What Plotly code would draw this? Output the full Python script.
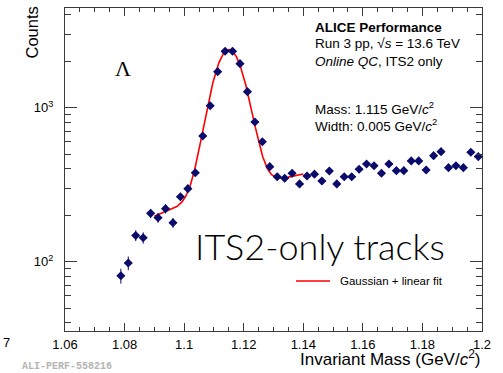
import numpy as np
import plotly.graph_objects as go

# Invariant-mass histogram (bin centres in GeV/c^2, counts per 2.5 MeV bin)
mass_bins = [
    1.07875, 1.08125, 1.08375, 1.08625, 1.08875, 1.09125, 1.09375, 1.09625,
    1.09875, 1.10125, 1.10375, 1.10625, 1.10875, 1.11125, 1.11375, 1.11625,
    1.11875, 1.12125, 1.12375, 1.12625, 1.12875, 1.13125, 1.13375, 1.13625,
    1.13875, 1.14125, 1.14375, 1.14625, 1.14875, 1.15125, 1.15375, 1.15625,
    1.15875, 1.16125, 1.16375, 1.16625, 1.16875, 1.17125, 1.17375, 1.17625,
    1.17875, 1.18125, 1.18375, 1.18625, 1.18875, 1.19125, 1.19375, 1.19625,
    1.19875,
]
counts = [
    81, 98, 148, 143, 206, 193, 221, 179,
    264, 298, 378, 655, 1030, 1713, 2323, 2323,
    1931, 1270, 807, 601, 414, 356, 348, 375,
    320, 360, 370, 334, 388, 320, 356, 356,
    398, 431, 420, 375, 431, 390, 390, 451,
    451, 394, 488, 518, 408, 420, 408, 513,
    481,
]
count_errors = [
    9, 10, 12, 12, 14, 14, 15, 13,
    16, 17, 19, 26, 32, 41, 48, 48,
    44, 36, 28, 25, 20, 19, 19, 19,
    18, 19, 19, 18, 20, 18, 19, 19,
    20, 21, 20, 19, 21, 20, 20, 21,
    21, 20, 22, 23, 20, 20, 20, 23,
    22,
]
bin_half_width = 0.00125

# Gaussian + linear background fit result
fit_mass = 1.115
fit_width = 0.005
fit_amplitude = 2100.0
fit_bkg_at_mass = 284.0
fit_bkg_slope = 3460.0
fit_range = (1.09, 1.14)

x_tick_vals = [1.06, 1.08, 1.10, 1.12, 1.14, 1.16, 1.18, 1.20]
x_tick_text = ["1.06", "1.08", "1.1", "1.12", "1.14", "1.16", "1.18", "1.2"]
y_tick_vals = [100, 1000]
y_tick_text = ["10<sup>2</sup>", "10<sup>3</sup>"]
y_minor_vals = [40, 50, 60, 70, 80, 90, 200, 300, 400, 500, 600, 700, 800, 900,
                2000, 3000, 4000]

m_fit = np.linspace(fit_range[0], fit_range[1], 300)
y_fit = (fit_amplitude * np.exp(-0.5 * ((m_fit - fit_mass) / fit_width) ** 2)
         + fit_bkg_at_mass + fit_bkg_slope * (m_fit - fit_mass))

W, H = 503, 373
FONT = "Liberation Sans, Arial, Helvetica, sans-serif"
NAVY = "#0b0b6b"
FRAME = "#3a3a3a"

fig = go.Figure()

fig.add_trace(go.Scatter(
    x=m_fit, y=y_fit, mode="lines",
    line=dict(color="#ff0000", width=1.6),
    hoverinfo="skip",
))

fig.add_trace(go.Scatter(
    x=mass_bins, y=counts, mode="markers",
    marker=dict(symbol="diamond", size=7, color=NAVY),
    error_y=dict(type="data", array=count_errors, color=NAVY, thickness=1, width=0),
    error_x=dict(type="constant", value=bin_half_width, color=NAVY, thickness=1, width=0),
))

fig.update_layout(
    width=W, height=H,
    margin=dict(l=65, r=21, t=8, b=42),
    paper_bgcolor="white", plot_bgcolor="white",
    showlegend=False,
    font=dict(family=FONT, size=13, color="black"),
)

fig.update_xaxes(
    range=[1.06, 1.2],
    tickmode="array", tickvals=x_tick_vals, ticktext=x_tick_text,
    ticks="inside", ticklen=8, tickwidth=1, tickcolor=FRAME,
    tickfont=dict(family=FONT, size=13, color="black"),
    ticklabelstandoff=1,
    minor=dict(tickmode="linear", tick0=1.06, dtick=0.005,
               ticks="inside", ticklen=4, tickwidth=1, tickcolor=FRAME),
    showline=True, linecolor=FRAME, linewidth=1, mirror="ticks",
    showgrid=False, zeroline=False,
)

fig.update_yaxes(
    type="log", range=[1.55, 3.647],
    tickmode="array", tickvals=y_tick_vals, ticktext=y_tick_text,
    ticks="inside", ticklen=12, tickwidth=1, tickcolor=FRAME,
    tickfont=dict(family=FONT, size=13, color="black"),
    ticklabelstandoff=8,
    minor=dict(tickmode="array", tickvals=y_minor_vals,
               ticks="inside", ticklen=6, tickwidth=1, tickcolor=FRAME),
    showline=True, linecolor=FRAME, linewidth=1, mirror="ticks",
    showgrid=False, zeroline=False,
)


def px_note(x, y, text, size, xanchor="left", **kw):
    fig.add_annotation(
        xref="paper", yref="paper",
        x=(x - 65) / (W - 65 - 21), y=1 - (y - 8) / (H - 8 - 42),
        text=text, showarrow=False, xanchor=xanchor, yanchor="middle",
        font=dict(family=kw.pop("family", FONT), size=size,
                  color=kw.pop("color", "black"), weight=kw.pop("weight", "normal")),
        **kw,
    )


# Axis titles
px_note(482, 358, "Invariant Mass (GeV/<i>c</i><sup>2</sup>)", 17, xanchor="right")
px_note(31.5, 33, "Counts", 16.5, xanchor="center", textangle=-90)

# Info block
px_note(313, 27, "ALICE Performance", 13.5, weight="bold")
px_note(313, 44, "Run 3 pp, √<i>s</i> = 13.6 TeV", 13.5)
px_note(313, 62, "<i>Online QC</i>, ITS2 only", 13.5)
px_note(313, 108, f"Mass: {fit_mass:.3f} GeV/<i>c</i><sup>2</sup>", 13.5)
px_note(313, 125, f"Width: {fit_width:.3f} GeV/<i>c</i><sup>2</sup>", 13.5)

# Particle label
px_note(123, 69, "Λ", 22, xanchor="center", family="Liberation Serif, Times New Roman, serif")

# Big caption
px_note(320, 246, "ITS2-only tracks", 36, xanchor="center", family="Lato, sans-serif", weight=300)

# Legend entry for the fit
fig.add_shape(type="line", xref="paper", yref="paper",
              x0=(296 - 65) / 417, x1=(330 - 65) / 417,
              y0=1 - (281 - 8) / 323, y1=1 - (281 - 8) / 323,
              line=dict(color="#ff0000", width=1.4))
px_note(338, 281, "Gaussian + linear fit", 11.5)

# Outside-frame labels
px_note(6, 342, "7", 13, xanchor="center")
px_note(20, 366, "ALI-PERF-558216", 10, family="Liberation Mono, Courier New, monospace",
        color="#b4b4b4", weight="bold")

fig.write_html("out.html")
